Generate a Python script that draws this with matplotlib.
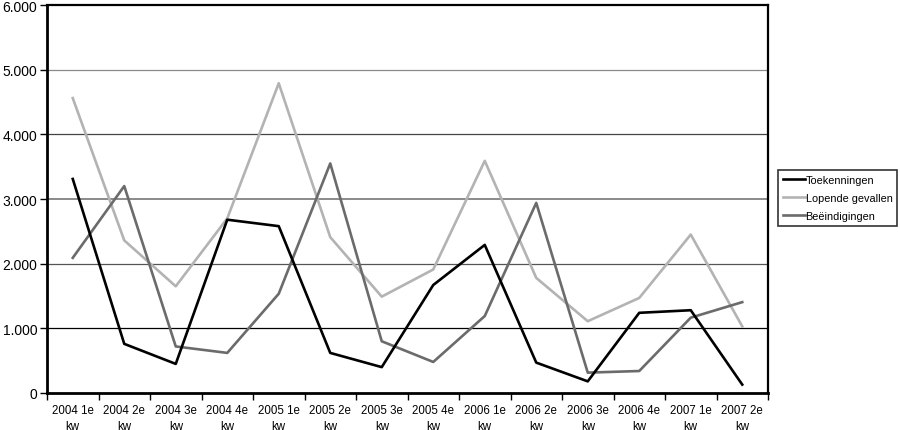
import numpy as np
import matplotlib
matplotlib.use("Agg")
import matplotlib.pyplot as plt

plt.rcParams['font.family'] = ['Liberation Sans', 'DejaVu Sans']

# ----------------------
# Data
# ----------------------
quarters = ["2004 1e\nkw", "2004 2e\nkw", "2004 3e\nkw", "2004 4e\nkw",
            "2005 1e\nkw", "2005 2e\nkw", "2005 3e\nkw", "2005 4e\nkw",
            "2006 1e\nkw", "2006 2e\nkw", "2006 3e\nkw", "2006 4e\nkw",
            "2007 1e\nkw", "2007 2e\nkw"]
toekenningen = [3310, 760, 450, 2680, 2580, 620, 400, 1670, 2290, 470, 180, 1240, 1280, 130]
lopende = [4560, 2360, 1650, 2700, 4790, 2410, 1490, 1910, 3590, 1780, 1110, 1470, 2450, 1030]
beeindigingen = [2090, 3200, 720, 620, 1535, 3550, 800, 480, 1190, 2940, 315, 340, 1165, 1405]

y_ticks = [0, 1000, 2000, 3000, 4000, 5000, 6000]
y_labels = ["0", "1.000", "2.000", "3.000", "4.000", "5.000", "6.000"]
grid_colors = {1000: "#000000", 2000: "#555555", 3000: "#777777", 4000: "#444444", 5000: "#8a8a8a"}

# ----------------------
# Plot
# ----------------------
fig = plt.figure(figsize=(9, 4.31), dpi=100)
ax = fig.add_axes([47 / 900, 37 / 431, 721 / 900, 388 / 431])

x = np.arange(len(quarters))
for val, col in grid_colors.items():
    ax.axhline(val, color=col, lw=1.2 if val == 3000 else 0.9, zorder=1)

ax.plot(x, toekenningen, color="black", lw=1.9, label="Toekenningen", zorder=4)
ax.plot(x, lopende, color="#b3b3b3", lw=1.9, label="Lopende gevallen", zorder=2)
ax.plot(x, beeindigingen, color="#6b6b6b", lw=1.9, label="Beëindigingen", zorder=3)

ax.set_xlim(-0.5, len(quarters) - 0.5)
ax.set_ylim(0, 6000)
ax.set_yticks(y_ticks)
ax.set_yticklabels(y_labels, fontsize=10)
ax.set_xticks(x)
ax.set_xticklabels(quarters, fontsize=8.3, linespacing=1.4)
ax.set_xticks(np.arange(len(quarters) + 1) - 0.5, minor=True)
ax.tick_params(axis="x", which="major", length=0, pad=8)
ax.tick_params(axis="x", which="minor", length=5, width=1, direction="out")
ax.tick_params(axis="y", length=5, width=1, direction="out", pad=2)

for side in ["left", "bottom"]:
    ax.spines[side].set_linewidth(2)
for side in ["top", "right"]:
    ax.spines[side].set_linewidth(1.6)

fig.legend(loc="upper left", bbox_to_anchor=(778 / 900, 1 - 171 / 431),
           fontsize=7.8, frameon=True, fancybox=False, edgecolor="black",
           handlelength=2.0, handletextpad=0.1, borderpad=0.45, labelspacing=0.75,
           borderaxespad=0)
leg = fig.legends[0]
leg.get_frame().set_linewidth(1.2)

fig.savefig("out.png", dpi=100)
